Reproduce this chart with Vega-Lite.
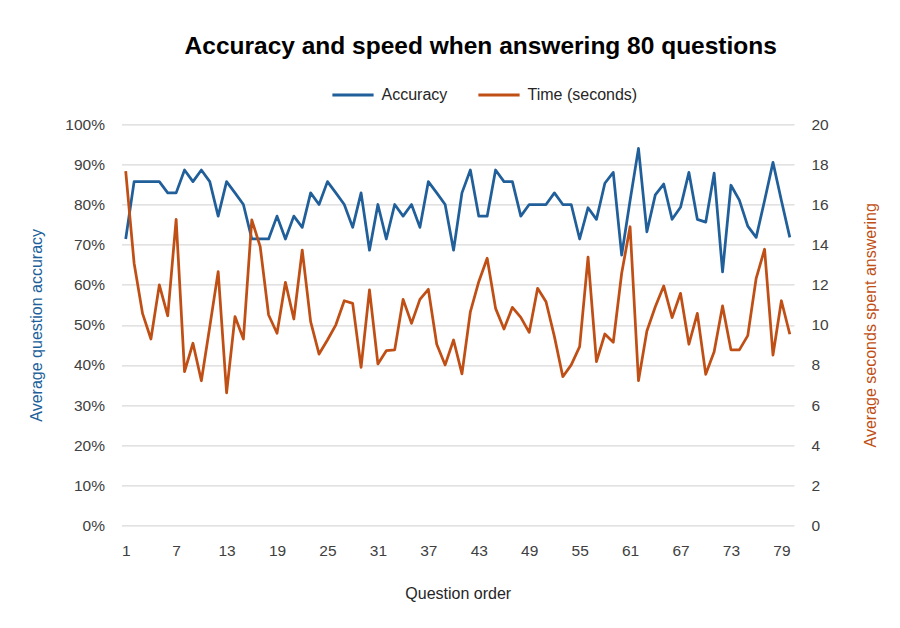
{
  "$schema": "https://vega.github.io/schema/vega-lite/v6.json",
  "autosize": {"type": "none"},
  "padding": {"left": 121.5, "top": 124.3, "right": 106, "bottom": 102.7},
  "width": 672.5,
  "height": 401,
  "background": "white",
  "title": {
    "text": "Accuracy and speed when answering 80 questions",
    "font": "Liberation Sans",
    "fontWeight": "bold",
    "fontSize": 24.5,
    "color": "#000000",
    "anchor": "middle",
    "dx": 23,
    "offset": 13
  },
  "config": {
    "view": {"stroke": null},
    "axis": {
      "labelFont": "Liberation Sans",
      "labelFontSize": 15.5,
      "labelColor": "#404040",
      "titleFont": "Liberation Sans",
      "titleFontSize": 16,
      "titleFontWeight": "normal",
      "domain": false,
      "ticks": false
    },
    "legend": {
      "labelFont": "Liberation Sans",
      "labelFontSize": 16,
      "labelColor": "#262626"
    }
  },
  "data": {
    "values": [
      {"q": 1, "Accuracy": 0.714, "Time": 17.67},
      {"q": 2, "Accuracy": 0.857, "Time": 13.07},
      {"q": 3, "Accuracy": 0.857, "Time": 10.57},
      {"q": 4, "Accuracy": 0.857, "Time": 9.29},
      {"q": 5, "Accuracy": 0.857, "Time": 11.99},
      {"q": 6, "Accuracy": 0.829, "Time": 10.45},
      {"q": 7, "Accuracy": 0.829, "Time": 15.26},
      {"q": 8, "Accuracy": 0.886, "Time": 7.66},
      {"q": 9, "Accuracy": 0.857, "Time": 9.08},
      {"q": 10, "Accuracy": 0.886, "Time": 7.21},
      {"q": 11, "Accuracy": 0.857, "Time": 9.9},
      {"q": 12, "Accuracy": 0.771, "Time": 12.65},
      {"q": 13, "Accuracy": 0.857, "Time": 6.61},
      {"q": 14, "Accuracy": 0.829, "Time": 10.41},
      {"q": 15, "Accuracy": 0.8, "Time": 9.29},
      {"q": 16, "Accuracy": 0.714, "Time": 15.23},
      {"q": 17, "Accuracy": 0.714, "Time": 13.9},
      {"q": 18, "Accuracy": 0.714, "Time": 10.49},
      {"q": 19, "Accuracy": 0.771, "Time": 9.58},
      {"q": 20, "Accuracy": 0.714, "Time": 12.12},
      {"q": 21, "Accuracy": 0.771, "Time": 10.29},
      {"q": 22, "Accuracy": 0.743, "Time": 13.73},
      {"q": 23, "Accuracy": 0.829, "Time": 10.16},
      {"q": 24, "Accuracy": 0.8, "Time": 8.54},
      {"q": 25, "Accuracy": 0.857, "Time": 9.24},
      {"q": 26, "Accuracy": 0.829, "Time": 10.0},
      {"q": 27, "Accuracy": 0.8, "Time": 11.2},
      {"q": 28, "Accuracy": 0.743, "Time": 11.07},
      {"q": 29, "Accuracy": 0.829, "Time": 7.88},
      {"q": 30, "Accuracy": 0.686, "Time": 11.74},
      {"q": 31, "Accuracy": 0.8, "Time": 8.05},
      {"q": 32, "Accuracy": 0.714, "Time": 8.71},
      {"q": 33, "Accuracy": 0.8, "Time": 8.75},
      {"q": 34, "Accuracy": 0.771, "Time": 11.27},
      {"q": 35, "Accuracy": 0.8, "Time": 10.07},
      {"q": 36, "Accuracy": 0.743, "Time": 11.27},
      {"q": 37, "Accuracy": 0.857, "Time": 11.77},
      {"q": 38, "Accuracy": 0.829, "Time": 9.03},
      {"q": 39, "Accuracy": 0.8, "Time": 8.0},
      {"q": 40, "Accuracy": 0.686, "Time": 9.24},
      {"q": 41, "Accuracy": 0.829, "Time": 7.55},
      {"q": 42, "Accuracy": 0.886, "Time": 10.65},
      {"q": 43, "Accuracy": 0.771, "Time": 12.15},
      {"q": 44, "Accuracy": 0.771, "Time": 13.32},
      {"q": 45, "Accuracy": 0.886, "Time": 10.82},
      {"q": 46, "Accuracy": 0.857, "Time": 9.79},
      {"q": 47, "Accuracy": 0.857, "Time": 10.87},
      {"q": 48, "Accuracy": 0.771, "Time": 10.37},
      {"q": 49, "Accuracy": 0.8, "Time": 9.62},
      {"q": 50, "Accuracy": 0.8, "Time": 11.82},
      {"q": 51, "Accuracy": 0.8, "Time": 11.15},
      {"q": 52, "Accuracy": 0.829, "Time": 9.41},
      {"q": 53, "Accuracy": 0.8, "Time": 7.41},
      {"q": 54, "Accuracy": 0.8, "Time": 8.0},
      {"q": 55, "Accuracy": 0.714, "Time": 8.91},
      {"q": 56, "Accuracy": 0.792, "Time": 13.37},
      {"q": 57, "Accuracy": 0.763, "Time": 8.16},
      {"q": 58, "Accuracy": 0.853, "Time": 9.54},
      {"q": 59, "Accuracy": 0.88, "Time": 9.13},
      {"q": 60, "Accuracy": 0.674, "Time": 12.57},
      {"q": 61, "Accuracy": 0.81, "Time": 14.89},
      {"q": 62, "Accuracy": 0.94, "Time": 7.21},
      {"q": 63, "Accuracy": 0.732, "Time": 9.69},
      {"q": 64, "Accuracy": 0.824, "Time": 10.9},
      {"q": 65, "Accuracy": 0.851, "Time": 11.94},
      {"q": 66, "Accuracy": 0.763, "Time": 10.36},
      {"q": 67, "Accuracy": 0.793, "Time": 11.57},
      {"q": 68, "Accuracy": 0.88, "Time": 9.03},
      {"q": 69, "Accuracy": 0.763, "Time": 10.57},
      {"q": 70, "Accuracy": 0.756, "Time": 7.53},
      {"q": 71, "Accuracy": 0.878, "Time": 8.66},
      {"q": 72, "Accuracy": 0.632, "Time": 10.94},
      {"q": 73, "Accuracy": 0.848, "Time": 8.75},
      {"q": 74, "Accuracy": 0.811, "Time": 8.75},
      {"q": 75, "Accuracy": 0.746, "Time": 9.46},
      {"q": 76, "Accuracy": 0.718, "Time": 12.32},
      {"q": 77, "Accuracy": 0.81, "Time": 13.77},
      {"q": 78, "Accuracy": 0.905, "Time": 8.49},
      {"q": 79, "Accuracy": 0.81, "Time": 11.2},
      {"q": 80, "Accuracy": 0.718, "Time": 9.53}
    ]
  },
  "encoding": {
    "x": {
      "field": "q",
      "type": "quantitative",
      "scale": {"domain": [0.5, 80.5], "nice": false, "zero": false},
      "axis": {
        "title": "Question order",
        "values": [1, 7, 13, 19, 25, 31, 37, 43, 49, 55, 61, 67, 73, 79],
        "grid": false,
        "labelPadding": 18,
        "titlePadding": 27,
        "titleColor": "#262626"
      }
    },
    "color": {
      "scale": {
        "domain": ["Accuracy", "Time (seconds)"],
        "range": ["#215F9A", "#C04F15"]
      },
      "legend": {
        "title": null,
        "orient": "none",
        "legendX": 209,
        "legendY": -52,
        "direction": "horizontal",
        "symbolType": "stroke",
        "symbolSize": 1700,
        "symbolStrokeWidth": 3,
        "labelOffset": 6,
        "columnPadding": 24
      }
    }
  },
  "layer": [
    {
      "mark": {"type": "line", "strokeWidth": 2.75, "strokeJoin": "round"},
      "encoding": {
        "y": {
          "field": "Accuracy",
          "type": "quantitative",
          "scale": {"domain": [0, 1], "nice": false},
          "axis": {
            "title": "Average question accuracy",
            "titleColor": "#215F9A",
            "format": ".0%",
            "values": [0, 0.1, 0.2, 0.3, 0.4, 0.5, 0.6, 0.7, 0.8, 0.9, 1],
            "grid": true,
            "gridColor": "#D9D9D9",
            "gridWidth": 1.3,
            "labelPadding": 17,
            "titlePadding": 20
          }
        },
        "color": {"datum": "Accuracy"}
      }
    },
    {
      "mark": {"type": "line", "strokeWidth": 2.75, "strokeJoin": "round"},
      "encoding": {
        "y": {
          "field": "Time",
          "type": "quantitative",
          "scale": {"domain": [0, 20], "nice": false},
          "axis": {
            "title": "Average seconds spent answering",
            "titleColor": "#C04F15",
            "orient": "right",
            "titleAngle": 270,
            "values": [0, 2, 4, 6, 8, 10, 12, 14, 16, 18, 20],
            "grid": false,
            "labelPadding": 17,
            "titlePadding": 50
          }
        },
        "color": {"datum": "Time (seconds)"}
      }
    }
  ],
  "resolve": {"scale": {"y": "independent"}}
}
